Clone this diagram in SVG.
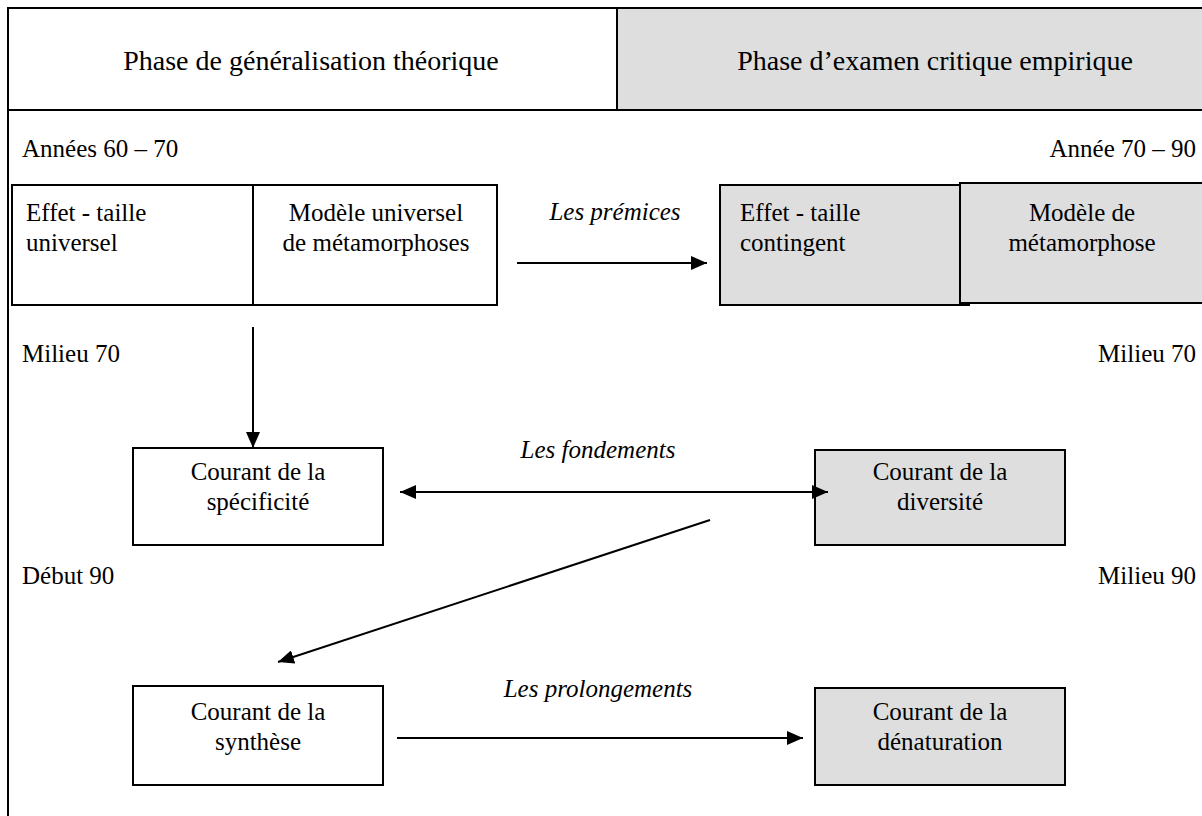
<svg xmlns="http://www.w3.org/2000/svg" width="1202" height="816" viewBox="0 0 1202 816" font-family="'Liberation Serif', Tinos, 'Times New Roman', Times, serif">
<style>
text{font-family:'Liberation Serif',Tinos,'Times New Roman',Times,serif;fill:#000}
.t{font-size:25px}
.h{font-size:28px}
.i{font-style:italic}
.m{text-anchor:middle}
.e{text-anchor:end}
.b{fill:#fff;stroke:#000;stroke-width:2}
.g{fill:#dedede;stroke:#000;stroke-width:2}
.ln{stroke:#000;stroke-width:2;fill:none}
</style>
<defs>
<marker id="a" viewBox="0 0 16 14" refX="16" refY="7" markerWidth="16" markerHeight="14" markerUnits="userSpaceOnUse" orient="auto-start-reverse">
<path d="M0,0 L16,7 L0,14 z" fill="#000"/>
</marker>
</defs>
<rect x="0" y="0" width="1202" height="816" fill="#fff"/>
<g id="frame">
<rect x="617" y="8" width="590" height="102" fill="#dedede"/>
<path class="ln" d="M8,816 V8 H1202 M8,110 H1202 M617,8 V110"/>
<text class="h m" x="311" y="70">Phase de généralisation théorique</text>
<text class="h m" x="935" y="70">Phase d’examen critique empirique</text>
</g>
<g id="periods">
<text class="t" x="22" y="157">Années 60 – 70</text>
<text class="t e" x="1196" y="157">Année 70 – 90</text>
<text class="t" x="22" y="362">Milieu 70</text>
<text class="t e" x="1196" y="362">Milieu 70</text>
<text class="t" x="22" y="584">Début 90</text>
<text class="t e" x="1196" y="584">Milieu 90</text>
</g>
<g id="node-effet-universel">
<rect class="b" x="12" y="185" width="241" height="120"/>
<text class="t" x="26" y="221">Effet - taille</text>
<text class="t" x="26" y="251">universel</text>
</g>
<g id="node-modele-universel">
<rect class="b" x="253" y="185" width="244" height="120"/>
<text class="t m" x="376" y="221">Modèle universel</text>
<text class="t m" x="376" y="251">de métamorphoses</text>
</g>
<g id="node-effet-contingent">
<rect class="g" x="720" y="185" width="240" height="120"/>
<path class="ln" d="M960,305 H970"/>
<text class="t" x="740" y="221">Effet - taille</text>
<text class="t" x="740" y="251">contingent</text>
</g>
<g id="node-modele-metamorphose">
<rect class="g" x="960" y="183" width="260" height="120"/>
<text class="t m" x="1082" y="221">Modèle de</text>
<text class="t m" x="1082" y="251">métamorphose</text>
</g>
<g id="node-specificite">
<rect class="b" x="133" y="448" width="250" height="97"/>
<text class="t m" x="258" y="480">Courant de la</text>
<text class="t m" x="258" y="510">spécificité</text>
</g>
<g id="node-diversite">
<rect class="g" x="815" y="450" width="250" height="95"/>
<text class="t m" x="940" y="480">Courant de la</text>
<text class="t m" x="940" y="510">diversité</text>
</g>
<g id="node-synthese">
<rect class="b" x="133" y="686" width="250" height="99"/>
<text class="t m" x="258" y="720">Courant de la</text>
<text class="t m" x="258" y="750">synthèse</text>
</g>
<g id="node-denaturation">
<rect class="g" x="815" y="688" width="250" height="97"/>
<text class="t m" x="940" y="720">Courant de la</text>
<text class="t m" x="940" y="750">dénaturation</text>
</g>
<g id="connectors">
<line class="ln" x1="517" y1="263" x2="707" y2="263" marker-end="url(#a)"/>
<line class="ln" x1="253" y1="327" x2="253" y2="448" marker-end="url(#a)"/>
<line class="ln" x1="400" y1="492" x2="828" y2="492" marker-start="url(#a)" marker-end="url(#a)"/>
<line class="ln" x1="710" y1="520" x2="278" y2="662" marker-end="url(#a)"/>
<line class="ln" x1="397" y1="738" x2="803" y2="738" marker-end="url(#a)"/>
<text class="t i m" x="615" y="220">Les prémices</text>
<text class="t i m" x="598" y="458">Les fondements</text>
<text class="t i m" x="598" y="697">Les prolongements</text>
</g>
</svg>
